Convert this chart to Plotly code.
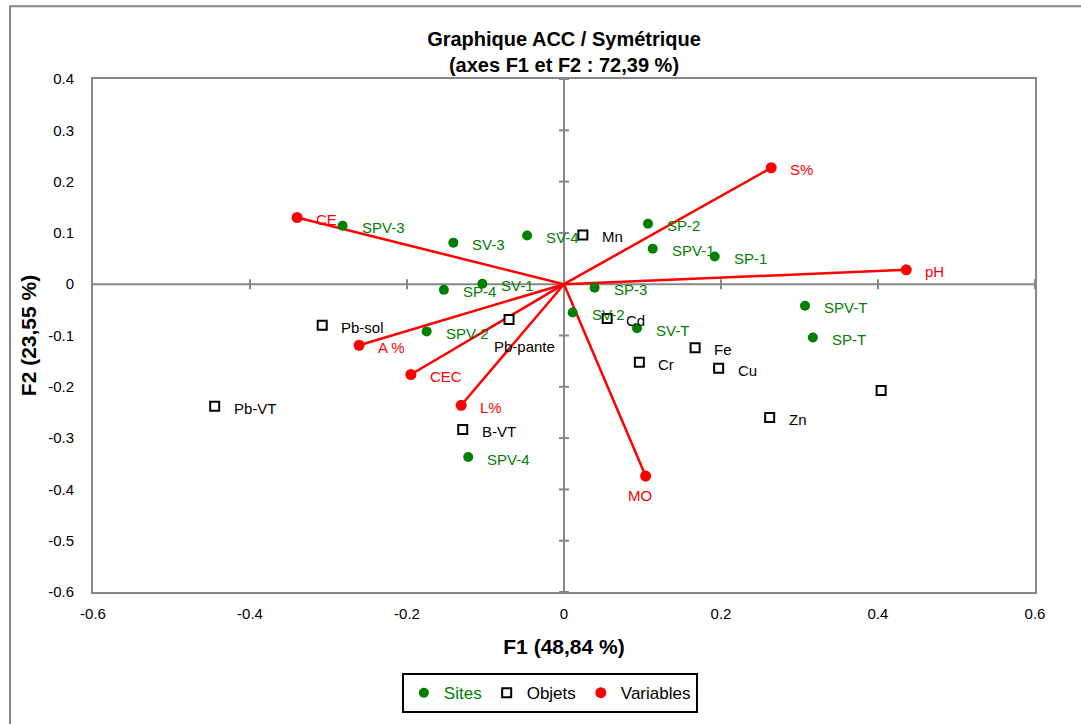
import plotly.graph_objects as go

# ---- data ----
var_names = ["CE", "S%", "pH", "A %", "CEC", "L%", "MO"]
var_f1 = [-0.340, 0.264, 0.436, -0.261, -0.195, -0.131, 0.104]
var_f2 = [0.130, 0.227, 0.028, -0.119, -0.176, -0.236, -0.374]

site_names = ["SPV-3", "SV-3", "SV-4", "SP-2", "SPV-1", "SP-1", "SV-1", "SP-4",
              "SP-3", "SV-2", "SPV-2", "SV-T", "SPV-T", "SP-T", "SPV-4"]
site_f1 = [-0.282, -0.141, -0.047, 0.107, 0.113, 0.192, -0.104, -0.153,
           0.039, 0.011, -0.175, 0.093, 0.307, 0.317, -0.122]
site_f2 = [0.114, 0.081, 0.095, 0.118, 0.069, 0.054, 0.001, -0.011,
           -0.007, -0.055, -0.092, -0.086, -0.042, -0.104, -0.337]

obj_names = ["Mn", "Pb-sol", "Pb-pante", "Cd", "Fe", "Cr", "Cu", "Zn", "", "Pb-VT", "B-VT"]
obj_f1 = [0.024, -0.308, -0.070, 0.055, 0.167, 0.096, 0.197, 0.262, 0.404, -0.445, -0.129]
obj_f2 = [0.096, -0.080, -0.069, -0.067, -0.124, -0.152, -0.164, -0.260, -0.207, -0.238, -0.283]

x_ticks = [-0.6, -0.4, -0.2, 0, 0.2, 0.4, 0.6]
x_tick_text = ["-0.6", "-0.4", "-0.2", "0", "0.2", "0.4", "0.6"]
y_ticks = [-0.6, -0.5, -0.4, -0.3, -0.2, -0.1, 0, 0.1, 0.2, 0.3, 0.4]
y_tick_text = ["-0.6", "-0.5", "-0.4", "-0.3", "-0.2", "-0.1", "0", "0.1", "0.2", "0.3", "0.4"]

GREEN = "#008000"
RED = "#FF0000"
GRAY = "#878787"
FONT = "Liberation Sans, Arial, sans-serif"

fig = go.Figure()

# vectors from origin
vx, vy = [], []
for a, b in zip(var_f1, var_f2):
    vx += [0, a, None]
    vy += [0, b, None]
fig.add_trace(go.Scatter(x=vx, y=vy, mode="lines", line=dict(color=RED, width=2.5),
                         showlegend=False, hoverinfo="skip"))

fig.add_trace(go.Scatter(x=site_f1, y=site_f2, mode="markers", name="<span style='color:#008000'>Sites</span>",
                         marker=dict(color=GREEN, size=10, symbol="circle")))
fig.add_trace(go.Scatter(x=obj_f1, y=obj_f2, mode="markers", name="Objets",
                         marker=dict(color="white", size=9, symbol="square",
                                     line=dict(color="black", width=2))))
fig.add_trace(go.Scatter(x=var_f1, y=var_f2, mode="markers", name="Variables",
                         marker=dict(color=RED, size=11, symbol="circle")))

annotations = []

def label(x, y, t, color, xs=17, ys=-2, anchor="left"):
    annotations.append(dict(x=x, y=y, text=t, showarrow=False, xanchor=anchor, yanchor="middle",
                            xshift=xs, yshift=ys, font=dict(family=FONT, size=15, color=color)))

for n, a, b in zip(site_names, site_f1, site_f2):
    label(a, b, n, GREEN)
for n, a, b in zip(obj_names, obj_f1, obj_f2):
    if not n:
        continue
    if n == "Pb-pante":
        label(a, b, n, "black", xs=-17, ys=-27)
    else:
        label(a, b, n, "black")
for n, a, b in zip(var_names, var_f1, var_f2):
    if n == "MO":
        label(a, b, n, RED, xs=-6, ys=-19, anchor="center")
    else:
        label(a, b, n, RED)

shapes = []
# outer border
shapes.append(dict(type="rect", xref="paper", yref="paper", x0=-0.0881, x1=1.05, y0=-0.29, y1=1.142,
                   line=dict(color=GRAY, width=2), layer="below"))
# zero axes
shapes.append(dict(type="line", xref="x", yref="y", x0=-0.6, x1=0.6, y0=0, y1=0,
                   line=dict(color=GRAY, width=2), layer="below"))
shapes.append(dict(type="line", xref="x", yref="y", x0=0, x1=0, y0=-0.6, y1=0.4,
                   line=dict(color=GRAY, width=2), layer="below"))
for t in x_ticks:
    if t in (0, -0.6):
        continue
    shapes.append(dict(type="line", xref="x", yref="y", ysizemode="pixel", yanchor=0,
                       x0=t, x1=t, y0=-5, y1=5, line=dict(color=GRAY, width=2), layer="below"))
for t in y_ticks:
    if t == 0:
        continue
    shapes.append(dict(type="line", xref="x", yref="y", xsizemode="pixel", xanchor=0,
                       x0=-5, x1=5, y0=t, y1=t, line=dict(color=GRAY, width=2), layer="below"))

fig.update_layout(
    width=1081, height=724,
    margin=dict(l=93, r=46, t=79, b=131),
    paper_bgcolor="white", plot_bgcolor="white",
    font=dict(family=FONT, size=15, color="black"),
    title=dict(text="<b>Graphique ACC / Symétrique<br>(axes F1 et F2 : 72,39 %)</b>",
               x=0.5, xref="paper", xanchor="center", y=0.937, yanchor="middle",
               font=dict(family=FONT, size=20, color="black")),
    xaxis=dict(range=[-0.6, 0.6], tickvals=x_ticks, ticktext=x_tick_text,
               showgrid=False, zeroline=False, showline=True, mirror=True,
               linecolor=GRAY, linewidth=2, ticks="outside", ticklen=7, tickcolor="rgba(0,0,0,0)",
               tickfont=dict(family=FONT, size=15, color="black"),
               title=dict(text="<b>F1 (48,84 %)</b>", font=dict(family=FONT, size=21, color="black"),
                          standoff=18)),
    yaxis=dict(range=[-0.6, 0.4], tickvals=y_ticks, ticktext=y_tick_text,
               showgrid=False, zeroline=False, showline=True, mirror=True,
               linecolor=GRAY, linewidth=2, ticks="outside", ticklen=14, tickcolor="rgba(0,0,0,0)",
               tickfont=dict(family=FONT, size=15, color="black"),
               title=dict(text="<b>F2 (23,55 %)</b>", font=dict(family=FONT, size=21, color="black"),
                          standoff=6)),
    legend=dict(orientation="h", x=0.485, xanchor="center", y=-0.156, yanchor="top",
                bordercolor="black", borderwidth=2, bgcolor="white",
                font=dict(family=FONT, size=17, color="black"), itemwidth=30),
    annotations=annotations,
    shapes=shapes,
)

fig.write_html("out.html", config={"displayModeBar": False},
               post_script="document.body.style.margin='0';document.body.style.overflow='hidden';")
